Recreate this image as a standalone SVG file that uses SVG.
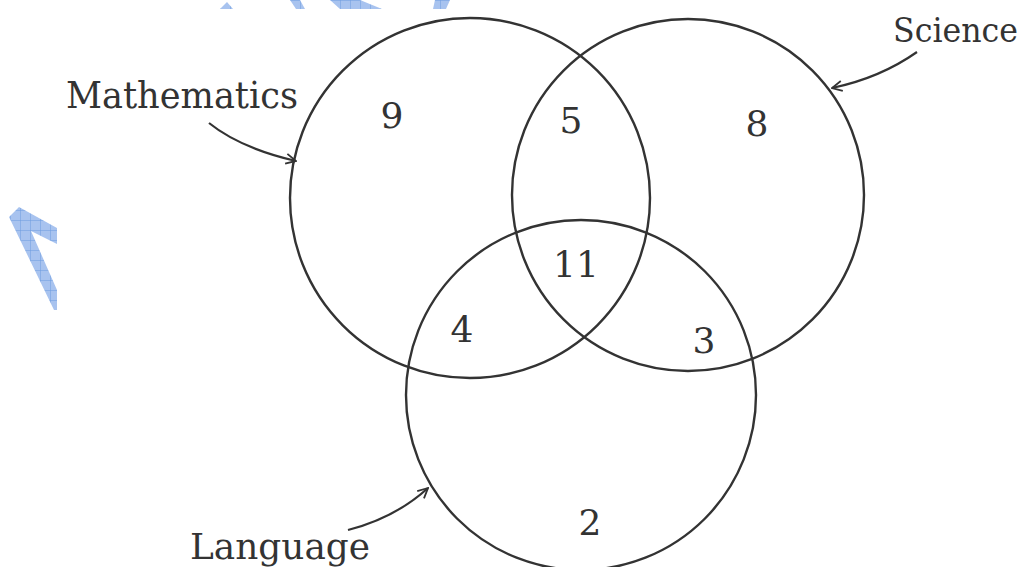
<svg xmlns="http://www.w3.org/2000/svg" width="1029" height="567" viewBox="0 0 1029 567">
<defs>
<pattern id="grid" width="10" height="10" patternUnits="userSpaceOnUse">
<rect width="10" height="10" fill="#a8c3ef"/>
<path d="M0 0H10M0 0V10" stroke="#6d9be0" stroke-width="1" fill="none"/>
</pattern>
<marker id="ah" viewBox="0 0 12 12" refX="11" refY="6" markerWidth="12" markerHeight="12" markerUnits="userSpaceOnUse" orient="auto">
<path d="M1 1 L11 6 L1 11" fill="none" stroke="#333" stroke-width="1.8"/>
</marker>
<style>
.c{fill:none;stroke:#333;stroke-width:2.4}
.t{font-family:"DejaVu Serif","Liberation Serif",serif;fill:#333}
.n{font-family:"DejaVu Serif","Liberation Serif",serif;fill:#333;font-size:36px;text-anchor:middle}
.a{fill:none;stroke:#333;stroke-width:2.2}
.w{fill:url(#grid)}
</style>
</defs>
<rect width="1029" height="567" fill="#fff"/>
<g id="watermark">
<polygon class="w" points="9,217 19,207 57,228 57,244 31,231 57,290 57,310 54,310"/>
<polygon class="w" points="220,9 227,2 233,9"/>
<polygon class="w" points="290,0 300,0 305,9 296,9"/>
<polygon class="w" points="330,0 360,0 382,9 340,9"/>
<polygon class="w" points="435,0 450,0 446,9 433,9"/>
</g>
<g id="mathematics">
<circle class="c" cx="470" cy="198" r="180"/>
<text class="t" x="66" y="108" font-size="38" textLength="232" lengthAdjust="spacingAndGlyphs">Mathematics</text>
</g>
<g id="science">
<circle class="c" cx="688" cy="195" r="176"/>
<text class="t" x="893" y="42" font-size="34" textLength="125" lengthAdjust="spacingAndGlyphs">Science</text>
</g>
<g id="language">
<circle class="c" cx="581" cy="395" r="175"/>
<text class="t" x="190" y="559" font-size="35" textLength="180" lengthAdjust="spacingAndGlyphs">Language</text>
</g>
<g id="regions">
<text class="n" x="392" y="128">9</text>
<text class="n" x="571" y="133">5</text>
<text class="n" x="757" y="136">8</text>
<text class="n" x="576" y="277">11</text>
<text class="n" x="462" y="342">4</text>
<text class="n" x="704" y="353">3</text>
<text class="n" x="590" y="535">2</text>
</g>
<g id="connectors">
<path class="a" d="M209 123 Q240 148 296 161" marker-end="url(#ah)"/>
<path class="a" d="M917 52 Q880 78 832 88" marker-end="url(#ah)"/>
<path class="a" d="M348 530 Q395 518 428 488" marker-end="url(#ah)"/>
</g>
</svg>
